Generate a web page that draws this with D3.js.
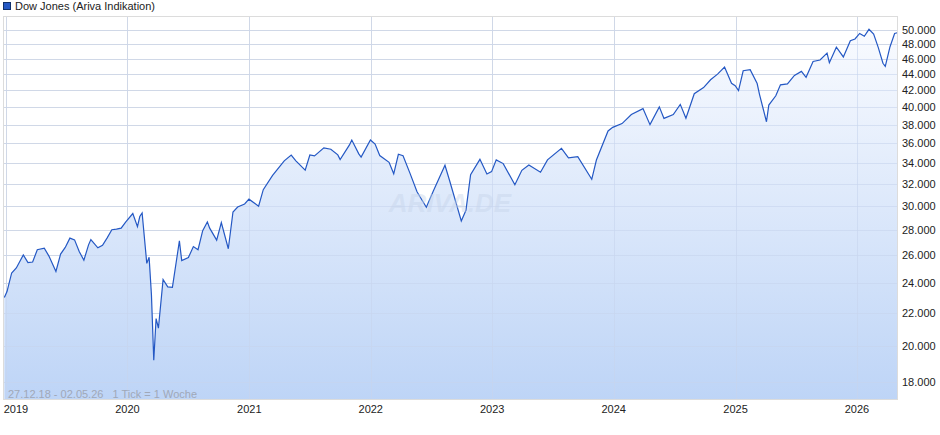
<!DOCTYPE html>
<html><head><meta charset="utf-8">
<script src="https://cdn.jsdelivr.net/npm/d3@7"></script>
<style>body{margin:0;background:#fff}svg{display:block;font-family:"Liberation Sans",Arial,sans-serif}text{white-space:pre}</style>
</head><body><svg id="c" width="940" height="435"></svg>
<script>
const dates = ["2018-12-27","2019-01-04","2019-01-18","2019-02-01","2019-02-22","2019-03-08","2019-03-22","2019-04-05","2019-04-26","2019-05-10","2019-05-31","2019-06-14","2019-06-28","2019-07-12","2019-07-26","2019-08-09","2019-08-23","2019-09-06","2019-09-13","2019-10-04","2019-10-18","2019-11-01","2019-11-15","2019-11-29","2019-12-13","2019-12-27",
"2020-01-17","2020-01-31","2020-02-07","2020-02-14","2020-02-28","2020-03-06","2020-03-13","2020-03-20","2020-03-27","2020-04-03","2020-04-17","2020-05-01","2020-05-15","2020-06-05","2020-06-12","2020-07-02","2020-07-17","2020-07-31","2020-08-14","2020-08-28","2020-09-04","2020-09-25","2020-10-09","2020-10-30","2020-11-13","2020-11-27","2020-12-18","2020-12-31",
"2021-01-29","2021-02-12","2021-03-12","2021-04-16","2021-05-07","2021-05-21","2021-06-18","2021-07-02","2021-07-16","2021-08-13","2021-09-03","2021-09-24","2021-10-01","2021-10-29","2021-11-05","2021-11-26","2021-12-03","2021-12-31",
"2022-01-14","2022-01-28","2022-02-25","2022-03-11","2022-03-25","2022-04-08","2022-04-29","2022-05-20","2022-06-17","2022-07-08","2022-08-12","2022-08-26","2022-09-30","2022-10-14","2022-10-28","2022-11-25","2022-12-16","2022-12-30",
"2023-01-13","2023-02-03","2023-03-10","2023-03-31","2023-04-21","2023-05-26","2023-06-16","2023-07-28","2023-08-18","2023-09-15","2023-10-27","2023-11-10","2023-12-15","2023-12-29",
"2024-01-26","2024-02-23","2024-03-29","2024-04-19","2024-05-17","2024-05-31","2024-06-28","2024-07-19","2024-08-05","2024-08-30","2024-09-27","2024-10-18","2024-11-08","2024-11-29","2024-12-20","2024-12-31",
"2025-01-10","2025-01-24","2025-02-14","2025-03-07","2025-03-14","2025-04-04","2025-04-11","2025-05-02","2025-05-16","2025-06-06","2025-06-27","2025-07-18","2025-08-01","2025-08-22","2025-09-12","2025-10-03","2025-10-10","2025-10-31","2025-11-21","2025-12-12","2025-12-26",
"2026-01-09","2026-01-23","2026-02-06","2026-02-20","2026-03-06","2026-03-20","2026-03-27","2026-04-10","2026-04-24","2026-05-02"];
const values = [23000,23400,24700,25060,26030,25450,25500,26420,26540,25940,24815,26090,26600,27330,27190,26290,25630,26800,27220,26570,26770,27350,28000,28050,28135,28645,
29350,28250,29100,29400,25400,25860,23185,19170,21640,21050,24240,23720,23685,27110,25600,25830,26670,26430,27930,28650,28130,27170,28590,26500,29480,29910,30180,30600,
29980,31460,32780,34200,34780,34200,33290,34790,34690,35520,35370,34800,34330,35820,36330,34900,34580,36340,
35910,34730,34060,32940,34860,34720,32980,31260,29890,31340,33760,32280,28725,29630,32860,34350,32920,33150,
34300,33930,31910,33270,33800,33090,34300,35460,34500,34620,32420,34280,37300,37690,
38110,39130,39800,37990,40000,38690,39120,40290,38700,41560,42310,43270,43990,44910,42840,42540,
41940,44420,44550,42800,41490,38310,40210,41310,42650,42760,43820,44340,43590,45630,45830,46760,45480,47560,46240,48460,48710,
49500,49100,50100,49400,47500,45400,45000,47600,49500,49600];
const yTicks = [18000,20000,22000,24000,26000,28000,30000,32000,34000,36000,38000,40000,42000,44000,46000,48000,50000];
const xYears = [2019,2020,2021,2022,2023,2024,2025,2026];

const svg = d3.select("#c");
const L=3,R=898,T=16,B=400;
const x = d3.scaleTime().domain([new Date(2019,0,1),new Date(2026,0,1)]).range([6,857]);
const y = d3.scaleLog().domain([18000,50000]).range([382,30]);
const fmt = d3.format(",.0f");
const data = dates.map((d,i)=>({d:new Date(d),v:values[i]}));

const defs = svg.append("defs");
const g = defs.append("linearGradient").attr("id","fg").attr("x1",0).attr("x2",0)
  .attr("gradientUnits","userSpaceOnUse").attr("y1",T).attr("y2",B);
g.append("stop").attr("offset","0").attr("stop-color","#fbfcff");
g.append("stop").attr("offset","1").attr("stop-color","#bad2f6");
defs.append("clipPath").attr("id","cp").append("rect").attr("x",L).attr("y",T).attr("width",R-L).attr("height",B-T);

svg.append("g").selectAll("line").data(yTicks).join("line")
  .attr("x1",L).attr("x2",R).attr("y1",d=>Math.round(y(d))+.5).attr("y2",d=>Math.round(y(d))+.5)
  .attr("stroke","#dcdcdc");
svg.append("g").selectAll("line").data(xYears).join("line")
  .attr("x1",d=>Math.round(x(new Date(d,0,1)))+.5).attr("x2",d=>Math.round(x(new Date(d,0,1)))+.5)
  .attr("y1",T).attr("y2",B).attr("stroke","#dcdcdc");

const cg = svg.append("g").attr("clip-path","url(#cp)");
cg.append("path").datum(data).attr("fill","url(#fg)").attr("fill-opacity",0.95)
  .attr("d",d3.area().x(d=>x(d.d)).y0(B).y1(d=>y(d.v)));
cg.append("g").selectAll("line").data(yTicks).join("line")
  .attr("x1",L).attr("x2",R).attr("y1",d=>Math.round(y(d))+.5).attr("y2",d=>Math.round(y(d))+.5)
  .attr("stroke","#c8d6ee").attr("stroke-opacity",0.6);
cg.append("g").selectAll("line").data(xYears).join("line")
  .attr("x1",d=>Math.round(x(new Date(d,0,1)))+.5).attr("x2",d=>Math.round(x(new Date(d,0,1)))+.5)
  .attr("y1",T).attr("y2",B).attr("stroke","#c8d6ee").attr("stroke-opacity",0.6);

svg.append("text").attr("x",450).attr("y",212).attr("text-anchor","middle").attr("font-size",26)
  .attr("font-style","italic").attr("font-weight","bold").attr("fill","#c6d4ea").attr("fill-opacity",0.45).text("ARIVA.DE");

cg.append("path").datum(data).attr("fill","none").attr("stroke","#2458c4").attr("stroke-width",1.2)
  .attr("d",d3.line().x(d=>x(d.d)).y(d=>y(d.v)));

svg.append("rect").attr("x",L+.5).attr("y",T+.5).attr("width",R-L-1).attr("height",B-T-1)
  .attr("fill","none").attr("stroke","#dcdcdc");

svg.append("g").selectAll("text").data(yTicks).join("text")
  .attr("x",902).attr("y",d=>y(d)+4).attr("font-size",11).attr("fill","#222")
  .text(d=>fmt(d).replace(/,/g,"."));
svg.append("g").selectAll("text").data(xYears).join("text")
  .attr("x",d=>Math.max(x(new Date(d,0,1)),16)).attr("y",413).attr("text-anchor","middle").attr("font-size",11).attr("fill","#222")
  .text(d=>d);

svg.append("text").attr("x",8).attr("y",398).attr("font-size",11).attr("fill","#a0a8b8")
  .attr("xml:space","preserve").text("27.12.18 - 02.05.26   1 Tick = 1 Woche");

svg.append("rect").attr("x",3.5).attr("y",2.5).attr("width",7).attr("height",7).attr("fill","#2458c4").attr("stroke","#10306a");
svg.append("text").attr("x",15).attr("y",10).attr("font-size",11).attr("fill","#222").text("Dow Jones (Ariva Indikation)");
</script></body></html>
